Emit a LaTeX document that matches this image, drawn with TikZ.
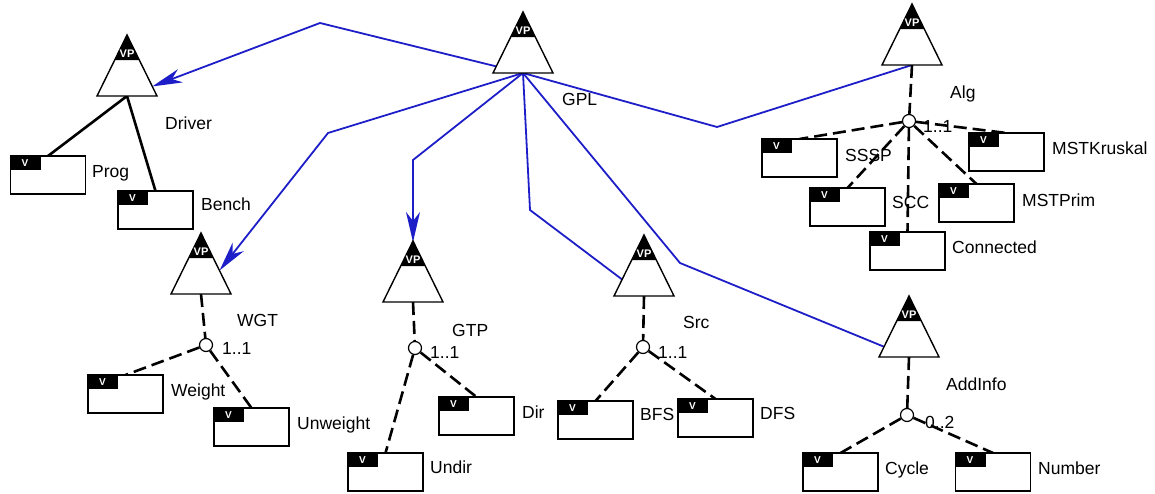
\documentclass[tikz,border=0pt]{standalone}
\usepackage{fontspec}
\setmainfont{Liberation Sans}
\usetikzlibrary{arrows.meta,calc,backgrounds}
\definecolor{linkblue}{RGB}{30,30,200}
\tikzset{
 tribox/.style={rectangle,minimum width=60pt,minimum height=61pt,inner sep=0pt,outer sep=0pt},
 trioutline/.style={draw=black,line width=1.4pt,fill=white,line join=miter},
 vptext/.style={text=white,font=\fontsize{11}{12}\selectfont\bfseries,inner sep=0pt},
 vbx/.style={draw=black,line width=1.4pt,fill=white,minimum width=75pt,minimum height=38pt,inner sep=0pt,outer sep=0pt},
 vtext/.style={text=white,font=\fontsize{10}{11}\selectfont\bfseries,inner sep=0pt},
 lbl/.style={anchor=west,inner sep=0pt,font=\fontsize{17.5}{20}\selectfont,text height=12.6pt,text depth=0pt},
 grp/.style={circle,draw=black,line width=1.2pt,fill=white,minimum size=13pt,inner sep=0pt},
 mand/.style={line width=2.6pt},
 alt/.style={line width=2.6pt,dash pattern=on 13pt off 6pt},
 link/.style={draw=linkblue,line width=1.8pt},
 linkarr/.style={link,-{Stealth[length=30pt,width=14pt,inset=9pt]}},
}
\newcommand\vptri[3]{%
 \node[tribox] (#1) at (#2,#3-30.5) {};
 \draw[trioutline] (#1.south west) -- (#1.north) -- (#1.south east) -- cycle;
 \fill (#1.north) -- ($(#1.north)!0.41!(#1.south west)$) -- ($(#1.north)!0.41!(#1.south east)$) -- cycle;
 \node[vptext] at ($(#1.north)+(0,19)$) {VP};
}
\newcommand\varbox[3]{%
 \node[vbx] (#1) at (#2,#3) {};
 \fill (#1.north west) rectangle ++(30,14);
 \node[vtext] at ($(#1.north west)+(14.5,7.5)$) {V};
}
\begin{document}
\begin{tikzpicture}[x=1pt,y=-1pt]
\useasboundingbox (0,0) rectangle (1155,494);
% variation points
\vptri{Driver}{127}{96}
\vptri{GPL}{523}{73}
\vptri{Alg}{912}{65}
\vptri{WGT}{201}{294}
\vptri{GTP}{413}{302}
\vptri{Src}{644}{296}
\vptri{AddInfo}{909}{357}
% variants
\varbox{Prog}{48}{175}
\varbox{Bench}{155.5}{210}
\varbox{SSSP}{799.5}{158}
\varbox{MSTKruskal}{1006.5}{152}
\varbox{SCC}{847.5}{207}
\varbox{MSTPrim}{976.5}{203}
\varbox{Connected}{907.5}{251}
\varbox{Weight}{125.5}{394}
\varbox{Unweight}{251.5}{427}
\varbox{Undir}{385.5}{472}
\varbox{Dir}{476.5}{416}
\varbox{BFS}{595.5}{420}
\varbox{DFS}{715.5}{418}
\varbox{Cycle}{840.5}{472}
\varbox{Number}{993}{472}
% group circles
\node[grp] (gAlg) at (909,121) {};
\node[grp] (gWGT) at (206,345) {};
\node[grp] (gGTP) at (415,348) {};
\node[grp] (gSrc) at (643,347) {};
\node[grp] (gAdd) at (907,415) {};
% labels
\node[lbl] (lDriver) at (165,123) {Driver};
\node[lbl] (lGPL) at (562,99) {GPL};
\node[lbl] (lAlg) at (950,92) {Alg};
\node[lbl] (lWGT) at (237,320) {WGT};
\node[lbl] (lGTP) at (452,330) {GTP};
\node[lbl] (lSrc) at (683,322) {Src};
\node[lbl] (lAddInfo) at (946,384) {AddInfo};
\node[lbl] (lProg) at (92,171) {Prog};
\node[lbl] (lBench) at (201,204) {Bench};
\node[lbl] (lSSSP) at (845,155) {SSSP};
\node[lbl] (lMSTKruskal) at (1052,148) {MSTKruskal};
\node[lbl] (lSCC) at (892,202) {SCC};
\node[lbl] (lMSTPrim) at (1022,200) {MSTPrim};
\node[lbl] (lConnected) at (952,247) {Connected};
\node[lbl] (lWeight) at (171,390) {Weight};
\node[lbl] (lUnweight) at (297,423) {Unweight};
\node[lbl] (lUndir) at (430,467) {Undir};
\node[lbl] (lDir) at (522,412) {Dir};
\node[lbl] (lBFS) at (640,414) {BFS};
\node[lbl] (lDFS) at (760,413) {DFS};
\node[lbl] (lCycle) at (885,468) {Cycle};
\node[lbl] (lNumber) at (1038,468) {Number};
\node[lbl] (mAlg) at (923,126) {1..1};
\node[lbl] (mWGT) at (222,348) {1..1};
\node[lbl] (mGTP) at (430,352) {1..1};
\node[lbl] (mSrc) at (658,352) {1..1};
\node[lbl] (mAdd) at (925,422) {0..2};
% connectors
\begin{pgfonlayer}{background}
\fill[white] (0,0) rectangle (1155,494);
\draw[linkarr,shorten >=27pt] (GPL.south) -- (320,23) -- (Driver.south);
\draw[linkarr,shorten >=30pt] (GPL.south) -- (328,133) -- (WGT.south);
\draw[linkarr,shorten >=60pt] (GPL.south) -- (413,160) -- (GTP.south);
\draw[link] (GPL.south) -- (530,210) -- (Src.south);
\draw[link] (GPL.south) -- (680,263) -- (AddInfo.south);
\draw[link] (GPL.south) -- (717,127) -- (Alg.south);
\draw[mand] (Driver.south) -- (Prog.north);
\draw[mand] (Driver.south) -- (Bench.north);
\draw[alt] (Alg.south) -- (gAlg);
\draw[alt] (gAlg) -- (SSSP.north);
\draw[alt] (gAlg) -- (SCC.north);
\draw[alt] (gAlg) -- (Connected.north);
\draw[alt] (gAlg) -- (MSTPrim.north);
\draw[alt] (gAlg) -- (MSTKruskal.north);
\draw[alt] (WGT.south) -- (gWGT);
\draw[alt] (gWGT) -- (Weight.north);
\draw[alt] (gWGT) -- (Unweight.north);
\draw[alt] (GTP.south) -- (gGTP);
\draw[alt] (gGTP) -- (Undir.north);
\draw[alt] (gGTP) -- (Dir.north);
\draw[alt] (Src.south) -- (gSrc);
\draw[alt] (gSrc) -- (BFS.north);
\draw[alt] (gSrc) -- (DFS.north);
\draw[alt] (AddInfo.south) -- (gAdd);
\draw[alt] (gAdd) -- (Cycle.north);
\draw[alt] (gAdd) -- (Number.north);
\end{pgfonlayer}
\end{tikzpicture}
\end{document}
